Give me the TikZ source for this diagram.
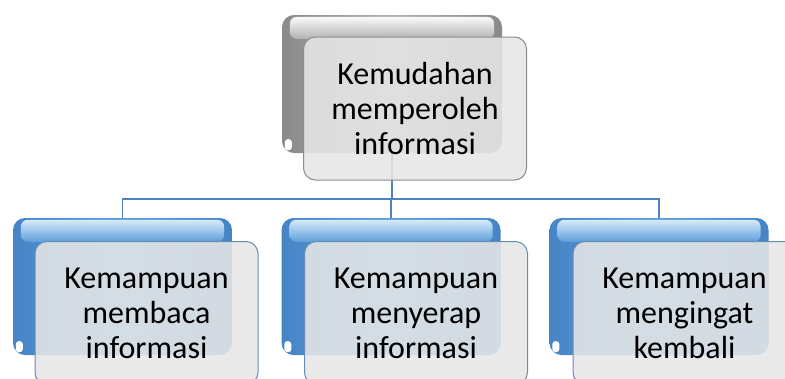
\documentclass[tikz,border=0pt]{standalone}
\usepackage{fontspec}
\setmainfont{Carlito}
\usetikzlibrary{calc}
\definecolor{bluebase}{RGB}{92,158,218}
\definecolor{bluedark}{RGB}{70,132,198}
\definecolor{bluelight}{RGB}{215,234,250}
\definecolor{graybase}{RGB}{178,178,178}
\definecolor{graydark}{RGB}{138,138,138}
\definecolor{graylight}{RGB}{250,250,250}
\definecolor{linkblue}{RGB}{79,129,189}
\definecolor{frontfill}{RGB}{230,230,230}
\definecolor{frontblueline}{RGB}{105,140,182}
\definecolor{frontgrayline}{RGB}{140,140,140}
\tikzset{
  backbox/.style={rectangle, rounded corners=12pt, inner sep=0pt, draw=none},
  backblue/.style={backbox, minimum width=219pt, minimum height=137pt,
    left color=bluedark, right color=bluedark, middle color=bluebase},
  backgray/.style={backbox, minimum width=220pt, minimum height=138pt,
    left color=graydark, right color=graydark, middle color=graybase},
  frontbox/.style={rectangle, rounded corners=12pt, inner sep=0pt,
    minimum width=223pt, minimum height=143pt, fill=frontfill, fill opacity=0.88,
    text opacity=1, line width=1pt, align=center,
    font=\fontsize{32}{35}\selectfont},
  frontblue/.style={frontbox, draw=frontblueline},
  frontgray/.style={frontbox, draw=frontgrayline},
  link/.style={draw=linkblue, line width=1.8pt}
}
\newcommand{\glossy}[3]{%
  \shade[top color=#2, bottom color=#3, rounded corners=7pt]
    ($(#1.north west)+(8,2)$) rectangle ($(#1.north east)+(-8,24)$);
  \fill[white, rounded corners=3pt]
    ($(#1.south west)+(3,-14)$) rectangle ($(#1.south west)+(10,-3)$);
}
\begin{document}
\begin{tikzpicture}[x=1pt,y=-1pt]
\useasboundingbox (0,0) rectangle (785,378);
\clip (0,0) rectangle (785,378);
% back boxes
\node[backgray] (tb) at (392,84) {};
\glossy{tb}{graylight}{graybase}
\node[backblue] (b1) at (122.5,286.5) {};
\glossy{b1}{bluelight}{bluebase}
\node[backblue] (b2) at (391,286.5) {};
\glossy{b2}{bluelight}{bluebase}
\node[backblue] (b3) at (659,286.5) {};
\glossy{b3}{bluelight}{bluebase}
% connectors
\coordinate (bus) at (0,199);
\draw[link] (tb.south) -- (tb.south |- bus);
\draw[link] (b1.north) -- (b1.north |- bus) -- (b3.north |- bus) -- (b3.north);
\draw[link] (b2.north) -- (b2.north |- bus);
% front boxes
\node[frontgray] (t) at (415,108.5) {Kemudahan\\memperoleh\\informasi};
\node[frontblue] (f1) at (146.5,313) {Kemampuan\\membaca\\informasi};
\node[frontblue] (f2) at (416,313) {Kemampuan\\menyerap\\informasi};
\node[frontblue] (f3) at (684.5,313) {Kemampuan\\mengingat\\kembali};
\end{tikzpicture}
\end{document}
